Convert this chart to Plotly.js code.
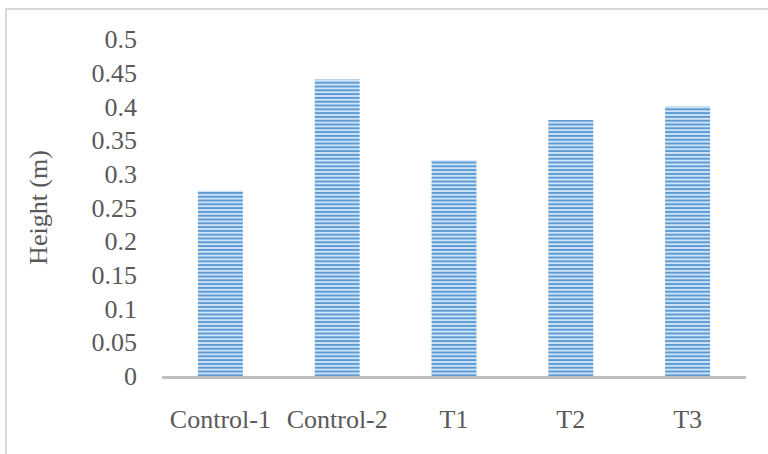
<!DOCTYPE html>
<html>
<head>
<meta charset="utf-8">
<script src="https://cdn.plot.ly/plotly-3.0.1.min.js"></script>
<style>
  html, body { margin: 0; padding: 0; background: #ffffff; overflow: hidden; }
  #frame { position: absolute; left: 5px; top: 8px; width: 763px; height: 446px;
           border-left: 2px solid #d9d9d9; border-top: 2px solid #d9d9d9; }
  #chart { width: 761px; height: 444px; }
</style>
</head>
<body>
<div id="frame"><div id="chart"></div></div>
<script>
const categories = ["Control-1", "Control-2", "T1", "T2", "T3"];
const heights = [0.275, 0.44, 0.32, 0.38, 0.40];
const yTickValues = [0, 0.05, 0.1, 0.15, 0.2, 0.25, 0.3, 0.35, 0.4, 0.45, 0.5];
const yTickLabels = ["0", "0.05", "0.1", "0.15", "0.2", "0.25", "0.3", "0.35", "0.4", "0.45", "0.5"];

const fontFamily = "'Liberation Serif', 'Times New Roman', serif";
const textColor = "#595959";

const trace = {
  type: "bar",
  x: categories,
  y: heights,
  width: 0.385,
  marker: {
    color: "#c9def2",
    line: { width: 0 },
    pattern: { shape: "-", fgcolor: "#5b9bd5", bgcolor: "#cfe2f5", size: 3.8, solidity: 0.5, fillmode: "replace" }
  },
  hoverinfo: "none"
};

const layout = {
  width: 761,
  height: 444,
  margin: { l: 155, r: 22, t: 29, b: 78 },
  paper_bgcolor: "rgba(0,0,0,0)",
  plot_bgcolor: "rgba(0,0,0,0)",
  showlegend: false,
  font: { family: fontFamily, size: 26, color: textColor },
  xaxis: {
    type: "category",
    showgrid: false,
    showline: true,
    linecolor: "#bfbfbf",
    linewidth: 2.5,
    ticks: "",
    ticklabelstandoff: 18,
    tickfont: { family: fontFamily, size: 26, color: textColor },
    zeroline: false
  },
  yaxis: {
    range: [0, 0.5],
    tickmode: "array",
    tickvals: yTickValues,
    ticktext: yTickLabels,
    showgrid: false,
    showline: false,
    zeroline: false,
    ticks: "",
    ticklabelstandoff: 24,
    tickfont: { family: fontFamily, size: 26, color: textColor },
    title: { text: "Height (m)", font: { family: fontFamily, size: 26, color: textColor }, standoff: 36 }
  }
};

Plotly.newPlot("chart", [trace], layout, { staticPlot: true, displayModeBar: false });
</script>
</body>
</html>
